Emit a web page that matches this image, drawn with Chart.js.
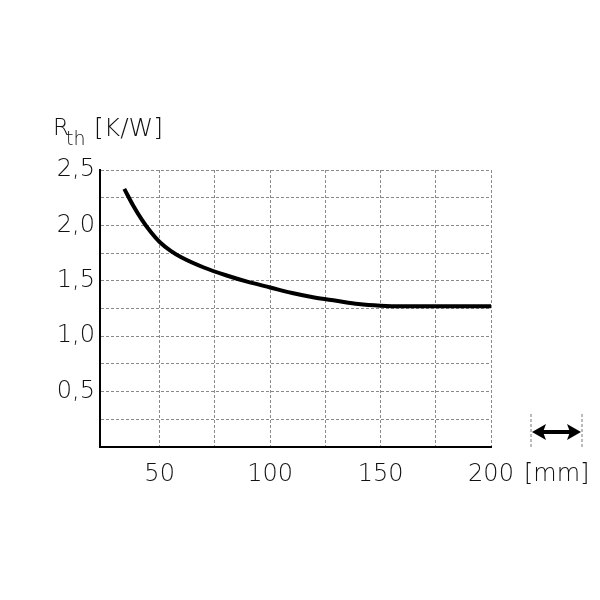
<!DOCTYPE html>
<html><head><meta charset="utf-8">
<script src="https://cdn.jsdelivr.net/npm/chart.js@4"></script>
<style>html,body{margin:0;padding:0;background:#fff}#wrap{width:600px;height:600px}</style>
</head><body><div id="wrap"><canvas id="c" width="600" height="600"></canvas></div>
<script>
const lengthMm = [34, 38, 42, 46, 50, 55, 60, 70, 80, 90, 100, 110, 120, 130, 140, 150, 160, 175, 200];
const rthKW    = [2.33, 2.18, 2.05, 1.94, 1.85, 1.77, 1.71, 1.62, 1.55, 1.49, 1.44, 1.39, 1.35, 1.32, 1.29, 1.275, 1.27, 1.27, 1.27];
const xGridTicks = [50, 75, 100, 125, 150, 175, 200];
const xLabelTicks = [50, 100, 150, 200];
const yLabelTicks = [0.5, 1.0, 1.5, 2.0, 2.5];
const yTitle = {main: 'R', sub: 'th', unit: '[K/W]'};
const xUnit = '[mm]';

const FONT = '"DejaVu Sans", sans-serif';
const TXT = '#111';

const decor = {
  id: 'decor',
  afterDraw(chart) {
    const ctx = chart.ctx;
    ctx.save();
    ctx.fillStyle = TXT;
    ctx.textBaseline = 'alphabetic';
    ctx.textAlign = 'left';
    ctx.font = '200 23px ' + FONT;
    ctx.fillText(yTitle.main, 53, 135);
    ctx.font = '200 19px ' + FONT;
    ctx.fillText(yTitle.sub, 66, 145);
    ctx.font = '200 25px ' + FONT;
    ctx.fillText(yTitle.unit, 94, 136);
    ctx.font = '200 24px ' + FONT;
    ctx.fillText(xUnit, 524, 481);
    const xl = 531, xr = 582, yc = 432;
    ctx.strokeStyle = '#777';
    ctx.lineWidth = 1;
    ctx.setLineDash([3, 2]);
    ctx.beginPath();
    ctx.moveTo(xl, 414); ctx.lineTo(xl, 449);
    ctx.moveTo(xr, 414); ctx.lineTo(xr, 449);
    ctx.stroke();
    ctx.setLineDash([]);
    ctx.strokeStyle = '#000';
    ctx.lineWidth = 4;
    ctx.beginPath(); ctx.moveTo(xl + 10, yc); ctx.lineTo(xr - 10, yc); ctx.stroke();
    ctx.fillStyle = '#000';
    ctx.beginPath(); ctx.moveTo(xl + 1, yc); ctx.lineTo(xl + 15, yc - 8); ctx.lineTo(xl + 12, yc); ctx.lineTo(xl + 15, yc + 8); ctx.closePath(); ctx.fill();
    ctx.beginPath(); ctx.moveTo(xr - 1, yc); ctx.lineTo(xr - 15, yc - 8); ctx.lineTo(xr - 12, yc); ctx.lineTo(xr - 15, yc + 8); ctx.closePath(); ctx.fill();
    ctx.restore();
  }
};

new Chart(document.getElementById('c'), {
  type: 'line',
  data: {
    datasets: [{
      data: lengthMm.map((x, i) => ({x, y: rthKW[i]})),
      borderColor: '#000',
      borderWidth: 4,
      pointRadius: 0,
      cubicInterpolationMode: 'monotone',
      fill: false
    }]
  },
  options: {
    responsive: false,
    animation: false,
    devicePixelRatio: 1,
    layout: {padding: {top: 170, right: 109, left: 0, bottom: 0}},
    plugins: {legend: {display: false}, tooltip: {enabled: false}},
    scales: {
      x: {
        type: 'linear',
        min: 23, max: 200,
        afterBuildTicks(s) { s.ticks = xGridTicks.map(v => ({value: v})); },
        afterFit(s) { s.height = 153; },
        grid: {color: '#8a8a8a', lineWidth: 1, drawTicks: false},
        border: {display: true, color: '#000', width: 2, dash: [3, 2]},
        ticks: {
          padding: 13, color: TXT, font: {family: FONT, size: 24, weight: '200'}, maxRotation: 0, autoSkip: false,
          callback: v => xLabelTicks.includes(v) ? String(v) : ''
        }
      },
      y: {
        type: 'linear',
        min: 0, max: 2.5,
        ticks: {
          stepSize: 0.25, padding: 5, color: TXT, font: {family: FONT, size: 24, weight: '200'}, autoSkip: false,
          callback: v => yLabelTicks.some(t => Math.abs(t - v) < 1e-6) ? v.toFixed(1).replace('.', ',') : ''
        },
        afterFit(s) { s.width = 100; },
        grid: {color: '#8a8a8a', lineWidth: 1, drawTicks: false},
        border: {display: true, color: '#000', width: 2, dash: [3, 2]}
      }
    }
  },
  plugins: [decor]
});
</script>
</body></html>
